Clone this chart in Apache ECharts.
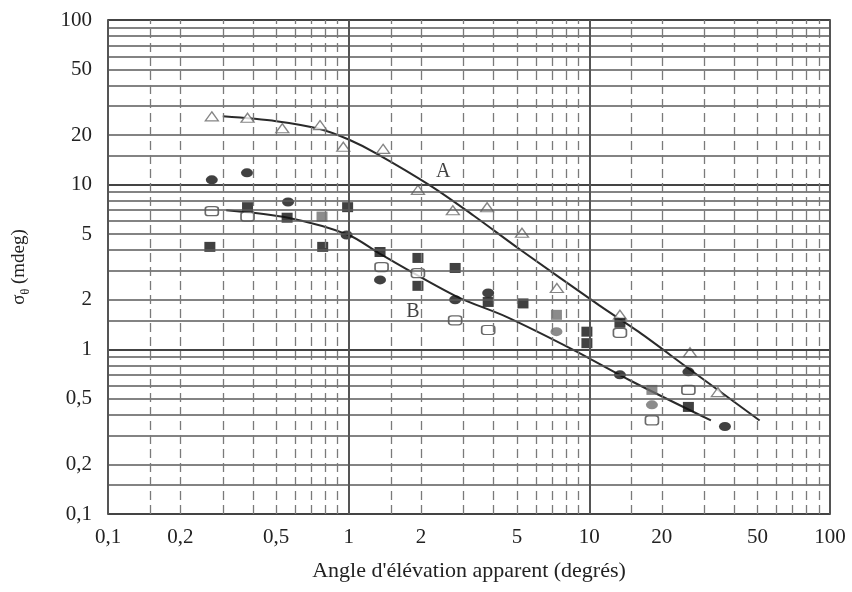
<!DOCTYPE html>
<html><head><meta charset="utf-8">
<script src="https://cdn.jsdelivr.net/npm/echarts@6/dist/echarts.min.js"></script>
<style>html,body{margin:0;padding:0;background:#fff}#c{width:852px;height:592px}</style>
</head><body><div id="c"></div>
<script>
// ---- tick labels ----
const xTickValues = [0.1, 0.2, 0.5, 1, 2, 5, 10, 20, 50, 100];
const yTickValues = [0.1, 0.2, 0.5, 1, 2, 5, 10, 20, 50, 100];
// log-paper grid
const gridMantissas = [1, 1.5, 2, 3, 4, 5, 6, 7, 8, 9];
const gridDecades = [0.1, 1, 10];

// ---- fitted curves A and B ----
const curveA = [[0.3, 26], [0.5, 24.3], [0.76, 21.8], [1, 18.8], [1.3, 15.5], [2.2, 9.8], [3.3, 6.5], [5.2, 4.0], [11, 1.85], [16, 1.28], [26, 0.76], [51, 0.37]];
const curveB = [[0.31, 7.0], [0.56, 6.3], [1, 4.95], [1.35, 3.8], [2.8, 2.1], [4.55, 1.57], [8.5, 1.0], [15, 0.64], [32, 0.37]];

// ---- measured points by marker type ----
const hollowTriangles = [[0.27, 26], [0.38, 25.5], [0.53, 22], [0.76, 23], [0.95, 17], [1.39, 16.5], [1.94, 9.3], [2.71, 7.0], [3.76, 7.3], [5.25, 5.1], [7.33, 2.36], [13.4, 1.62], [26.2, 0.96], [34.2, 0.55]];
const filledCircles = [[0.27, 10.7], [0.378, 11.8], [0.56, 7.85], [0.98, 4.95], [1.35, 2.64], [2.77, 2.0], [3.8, 2.2], [13.4, 0.70], [25.8, 0.73], [36.6, 0.34]];
const filledSquares = [[0.265, 4.19], [0.38, 7.3], [0.555, 6.3], [0.78, 4.19], [0.99, 7.3], [1.35, 3.9], [1.94, 3.59], [1.94, 2.43], [2.77, 3.12], [3.8, 1.94], [5.3, 1.9], [9.77, 1.28], [9.77, 1.09], [13.4, 1.45], [25.8, 0.447]];
const hollowSquares = [[0.27, 6.9], [0.38, 6.4], [1.37, 3.16], [1.94, 2.9], [2.77, 1.5], [3.8, 1.31], [13.4, 1.26], [18.2, 0.37], [25.8, 0.567]];
const graySquares = [[0.775, 6.4], [7.3, 1.62], [18.2, 0.567]];
const grayCircles = [[7.3, 1.28], [18.2, 0.46]];

// curve labels
const curveLabelNames = ['A', 'B'];
const curveLabelAt = [[2.47, 11.9], [1.85, 1.69]];

const FONT = 'Liberation Serif';
const fmt = v => String(+(+v).toPrecision(3)).replace('.', ',');

// build grid line values
const gridValues = [];
gridDecades.forEach(d => gridMantissas.forEach(m => gridValues.push(+(d * m).toPrecision(3))));
gridValues.push(100);
const isDecade = v => [0.1, 1, 10, 100].includes(v);

const hLines = gridValues.map(v => ({
  yAxis: v,
  lineStyle: { color: isDecade(v) ? '#444' : '#5a5a5a', width: isDecade(v) ? 2 : 1.5, type: 'solid' }
}));
const vLines = gridValues.map(v => ({
  xAxis: v,
  lineStyle: isDecade(v) ? { color: '#555', width: 2, type: 'solid' } : { color: '#7a7a7a', width: 1.3, type: [9, 5] }
}));

const chart = echarts.init(document.getElementById('c'), null, { renderer: 'canvas' });
chart.setOption({
  animation: false,
  backgroundColor: '#fff',
  grid: { left: 108, right: 22, top: 20, bottom: 78, show: true, borderColor: '#777', borderWidth: 2 },
  xAxis: {
    type: 'log', logBase: 10, min: 0.1, max: 100,
    name: "Angle d'élévation apparent (degrés)",
    nameLocation: 'middle', nameGap: 46,
    nameTextStyle: { fontFamily: FONT, fontSize: 22, color: '#222' },
    axisLine: { show: false }, axisTick: { show: false },
    splitLine: { show: false }, minorSplitLine: { show: false },
    axisLabel: { customValues: xTickValues, formatter: fmt, fontFamily: FONT, fontSize: 21, color: '#222', margin: 13 }
  },
  yAxis: {
    type: 'log', logBase: 10, min: 0.1, max: 100,
    name: '{a|σ}{s|θ}{a| (mdeg)}',
    nameLocation: 'middle', nameGap: 76, nameRotate: 90,
    nameTextStyle: {
      fontFamily: FONT, fontSize: 19, color: '#222',
      rich: {
        a: { fontFamily: FONT, fontSize: 19, color: '#222', lineHeight: 26, verticalAlign: 'middle' },
        s: { fontFamily: FONT, fontSize: 12, color: '#222', lineHeight: 26, verticalAlign: 'bottom' }
      }
    },
    axisLine: { show: false }, axisTick: { show: false },
    splitLine: { show: false },
    axisLabel: { customValues: yTickValues, formatter: fmt, fontFamily: FONT, fontSize: 21, color: '#222', margin: 16 }
  },
  series: [
    {
      name: 'grid', type: 'line', data: [], silent: true, z: 1,
      markLine: { silent: true, symbol: 'none', label: { show: false }, animation: false, data: hLines.concat(vLines) }
    },
    { name: 'A', type: 'line', data: curveA, smooth: 0.3, showSymbol: false, z: 3, lineStyle: { color: '#2a2a2a', width: 2 } },
    { name: 'B', type: 'line', data: curveB, smooth: 0.3, showSymbol: false, z: 3, lineStyle: { color: '#2a2a2a', width: 2 } },
    { type: 'scatter', data: hollowTriangles, symbol: 'triangle', symbolSize: [13, 9], z: 4,
      itemStyle: { color: '#fff', borderColor: '#666', borderWidth: 1.3 } },
    { type: 'scatter', data: filledCircles, symbol: 'circle', symbolSize: [12, 9], z: 4,
      itemStyle: { color: '#111' } },
    { type: 'scatter', data: filledSquares, symbol: 'rect', symbolSize: [11, 10], z: 4,
      itemStyle: { color: '#111' } },
    { type: 'scatter', data: hollowSquares, symbol: 'roundRect', symbolSize: [13, 9], z: 4,
      itemStyle: { color: '#fff', borderColor: '#444', borderWidth: 1.4 } },
    { type: 'scatter', data: graySquares, symbol: 'rect', symbolSize: [11, 10], z: 4,
      itemStyle: { color: '#6e6e6e' } },
    { type: 'scatter', data: grayCircles, symbol: 'circle', symbolSize: [12, 9], z: 4,
      itemStyle: { color: '#6e6e6e' } },
    { type: 'scatter', z: 5, symbolSize: 0, silent: true,
      data: curveLabelAt.map((p, i) => ({ value: p, name: curveLabelNames[i] })),
      label: { show: true, position: 'inside', formatter: p => p.name, fontFamily: FONT, fontSize: 20, color: '#111' } }
  ]
});
</script>
</body></html>
